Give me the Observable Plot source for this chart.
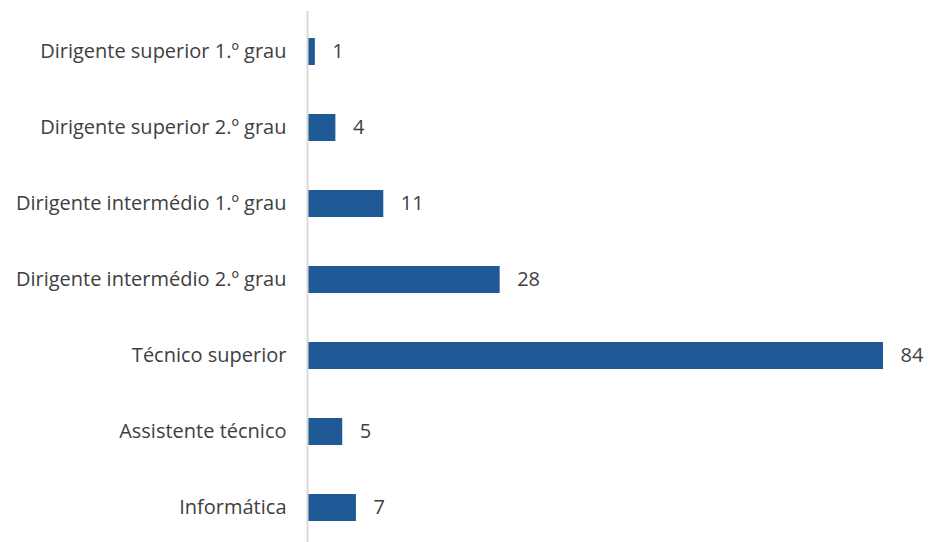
<!DOCTYPE html>
<html>
<head>
<meta charset="utf-8">
<script src="https://cdn.jsdelivr.net/npm/d3@7"></script>
<script src="https://cdn.jsdelivr.net/npm/@observablehq/plot@0.6"></script>
<style>
  body { margin: 0; background: #fff; }
  #chart svg { display: block; }
</style>
</head>
<body>
<div id="chart"></div>
<script>
const categories = [
  "Dirigente superior 1.º grau",
  "Dirigente superior 2.º grau",
  "Dirigente intermédio 1.º grau",
  "Dirigente intermédio 2.º grau",
  "Técnico superior",
  "Assistente técnico",
  "Informática"
];
const values = [1, 4, 11, 28, 84, 5, 7];

const data = categories.map((c, i) => ({ category: c, value: values[i] }));

const chart = Plot.plot({
  width: 928,
  height: 542,
  marginLeft: 308,
  marginRight: 45,
  marginTop: 11,
  marginBottom: -6,
  style: { fontFamily: "'Open Sans', sans-serif", fontSize: "20px", color: "#404040", background: "#fff" },
  x: { domain: [0, 84], axis: null },
  y: { domain: categories, paddingInner: 0.645, paddingOuter: 0.3225, label: null, tickSize: 0, tickPadding: 22 },
  marks: [
    Plot.barX(data, { x: "value", y: "category", fill: "#1f5a96" }),
    Plot.text(data, { x: "value", y: "category", text: d => String(d.value), textAnchor: "start", dx: 17, fill: "#404040", fontSize: 20 }),
    Plot.ruleX([0], { stroke: "#d9d9d9", strokeWidth: 2, dx: -1 })
  ]
});
document.getElementById("chart").appendChild(chart);
</script>
</body>
</html>
